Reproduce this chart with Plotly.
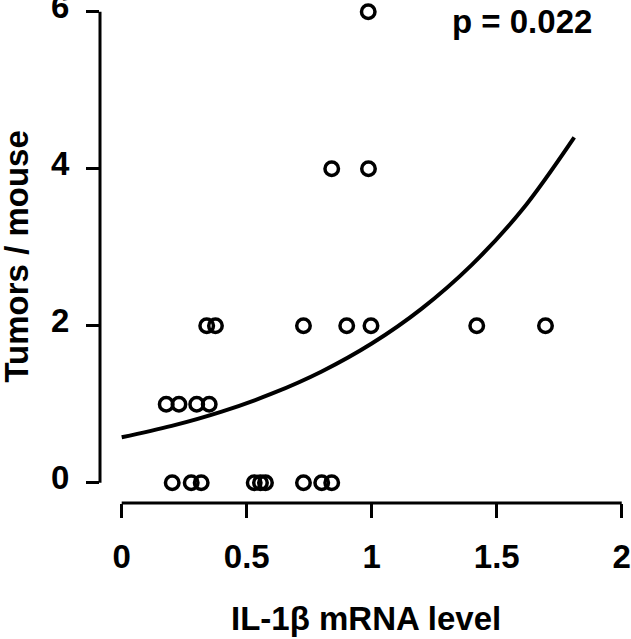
import plotly.graph_objects as go

x_vals = [0.986, 0.84, 0.987,
          0.34, 0.375, 0.727, 0.90, 0.997, 1.42, 1.695,
          0.178, 0.229, 0.300, 0.350,
          0.202, 0.278, 0.318, 0.530, 0.555, 0.575, 0.727, 0.800, 0.840]
y_vals = [6, 4, 4,
          2, 2, 2, 2, 2, 2, 2,
          1, 1, 1, 1,
          0, 0, 0, 0, 0, 0, 0, 0, 0]

# Fitted curve
curve_x = [0.0, 0.2, 0.4, 0.6, 0.8, 1.0, 1.2, 1.4, 1.6, 1.81]
curve_y = [0.578, 0.723, 0.905, 1.133, 1.417, 1.773, 2.218, 2.775, 3.47, 4.40]

x_ticks = [0, 0.5, 1, 1.5, 2]
x_tick_text = ["0", "0.5", "1", "1.5", "2"]
y_ticks = [0, 2, 4, 6]
y_tick_text = ["0", "2", "4", "6"]

x_title = "IL-1β mRNA level"
y_title = "Tumors / mouse"
p_text = "p = 0.022"

FONT = "Liberation Sans, Arial, Helvetica, sans-serif"
FS = 33
tfont = dict(family=FONT, size=FS, color="black", weight="bold")

fig = go.Figure()
fig.add_trace(go.Scatter(
    x=curve_x, y=curve_y, mode="lines",
    line=dict(color="black", width=4, shape="spline"),
    hoverinfo="skip", showlegend=False,
))
fig.add_trace(go.Scatter(
    x=x_vals, y=y_vals, mode="markers",
    marker=dict(symbol="circle-open", size=13.5, color="black",
                line=dict(width=3.5, color="black")),
    cliponaxis=False, showlegend=False,
))

# detached axis lines (R style)
fig.add_shape(type="line", xref="x", yref="paper", x0=x_ticks[0], x1=x_ticks[-1],
              y0=0, y1=0, line=dict(color="black", width=3))
fig.add_shape(type="line", xref="paper", yref="y", x0=0, x1=0,
              y0=y_ticks[0], y1=y_ticks[-1], line=dict(color="black", width=3))

# p-value label
fig.add_annotation(text=p_text, xref="paper", yref="paper", x=0.93, y=0.958,
                   xanchor="right", yanchor="middle", showarrow=False, font=tfont)
# axis titles
fig.add_annotation(text=x_title, xref="paper", yref="paper", x=0.5, y=-0.2296,
                   xanchor="center", yanchor="middle", showarrow=False, font=tfont)
fig.add_annotation(text=y_title, xref="paper", yref="paper", x=-0.159, y=0.489,
                   xanchor="center", yanchor="middle", textangle=-90,
                   showarrow=False, font=tfont)

fig.update_layout(
    width=631, height=639,
    margin=dict(l=100, r=0, t=0, b=136, autoexpand=False),
    paper_bgcolor="white", plot_bgcolor="white",
    font=tfont,
    xaxis=dict(range=[-0.0868, 2.037], tickvals=x_ticks, ticktext=x_tick_text,
               ticks="outside", ticklen=14, tickwidth=3, tickcolor="black",
               showline=False, showgrid=False, zeroline=False, automargin=False,
               ticklabelstandoff=10, ticklabeloverflow="allow", tickfont=tfont),
    yaxis=dict(range=[-0.259, 6.149], tickvals=y_ticks, ticktext=y_tick_text,
               ticks="outside", ticklen=13, tickwidth=3, tickcolor="black",
               showline=False, showgrid=False, zeroline=False, automargin=False,
               ticklabelstandoff=10, ticklabelshift=-5, ticklabeloverflow="allow",
               tickfont=tfont),
)

fig.write_html("out.html", config={"displayModeBar": False},
               post_script="document.body.style.margin='0px';")
